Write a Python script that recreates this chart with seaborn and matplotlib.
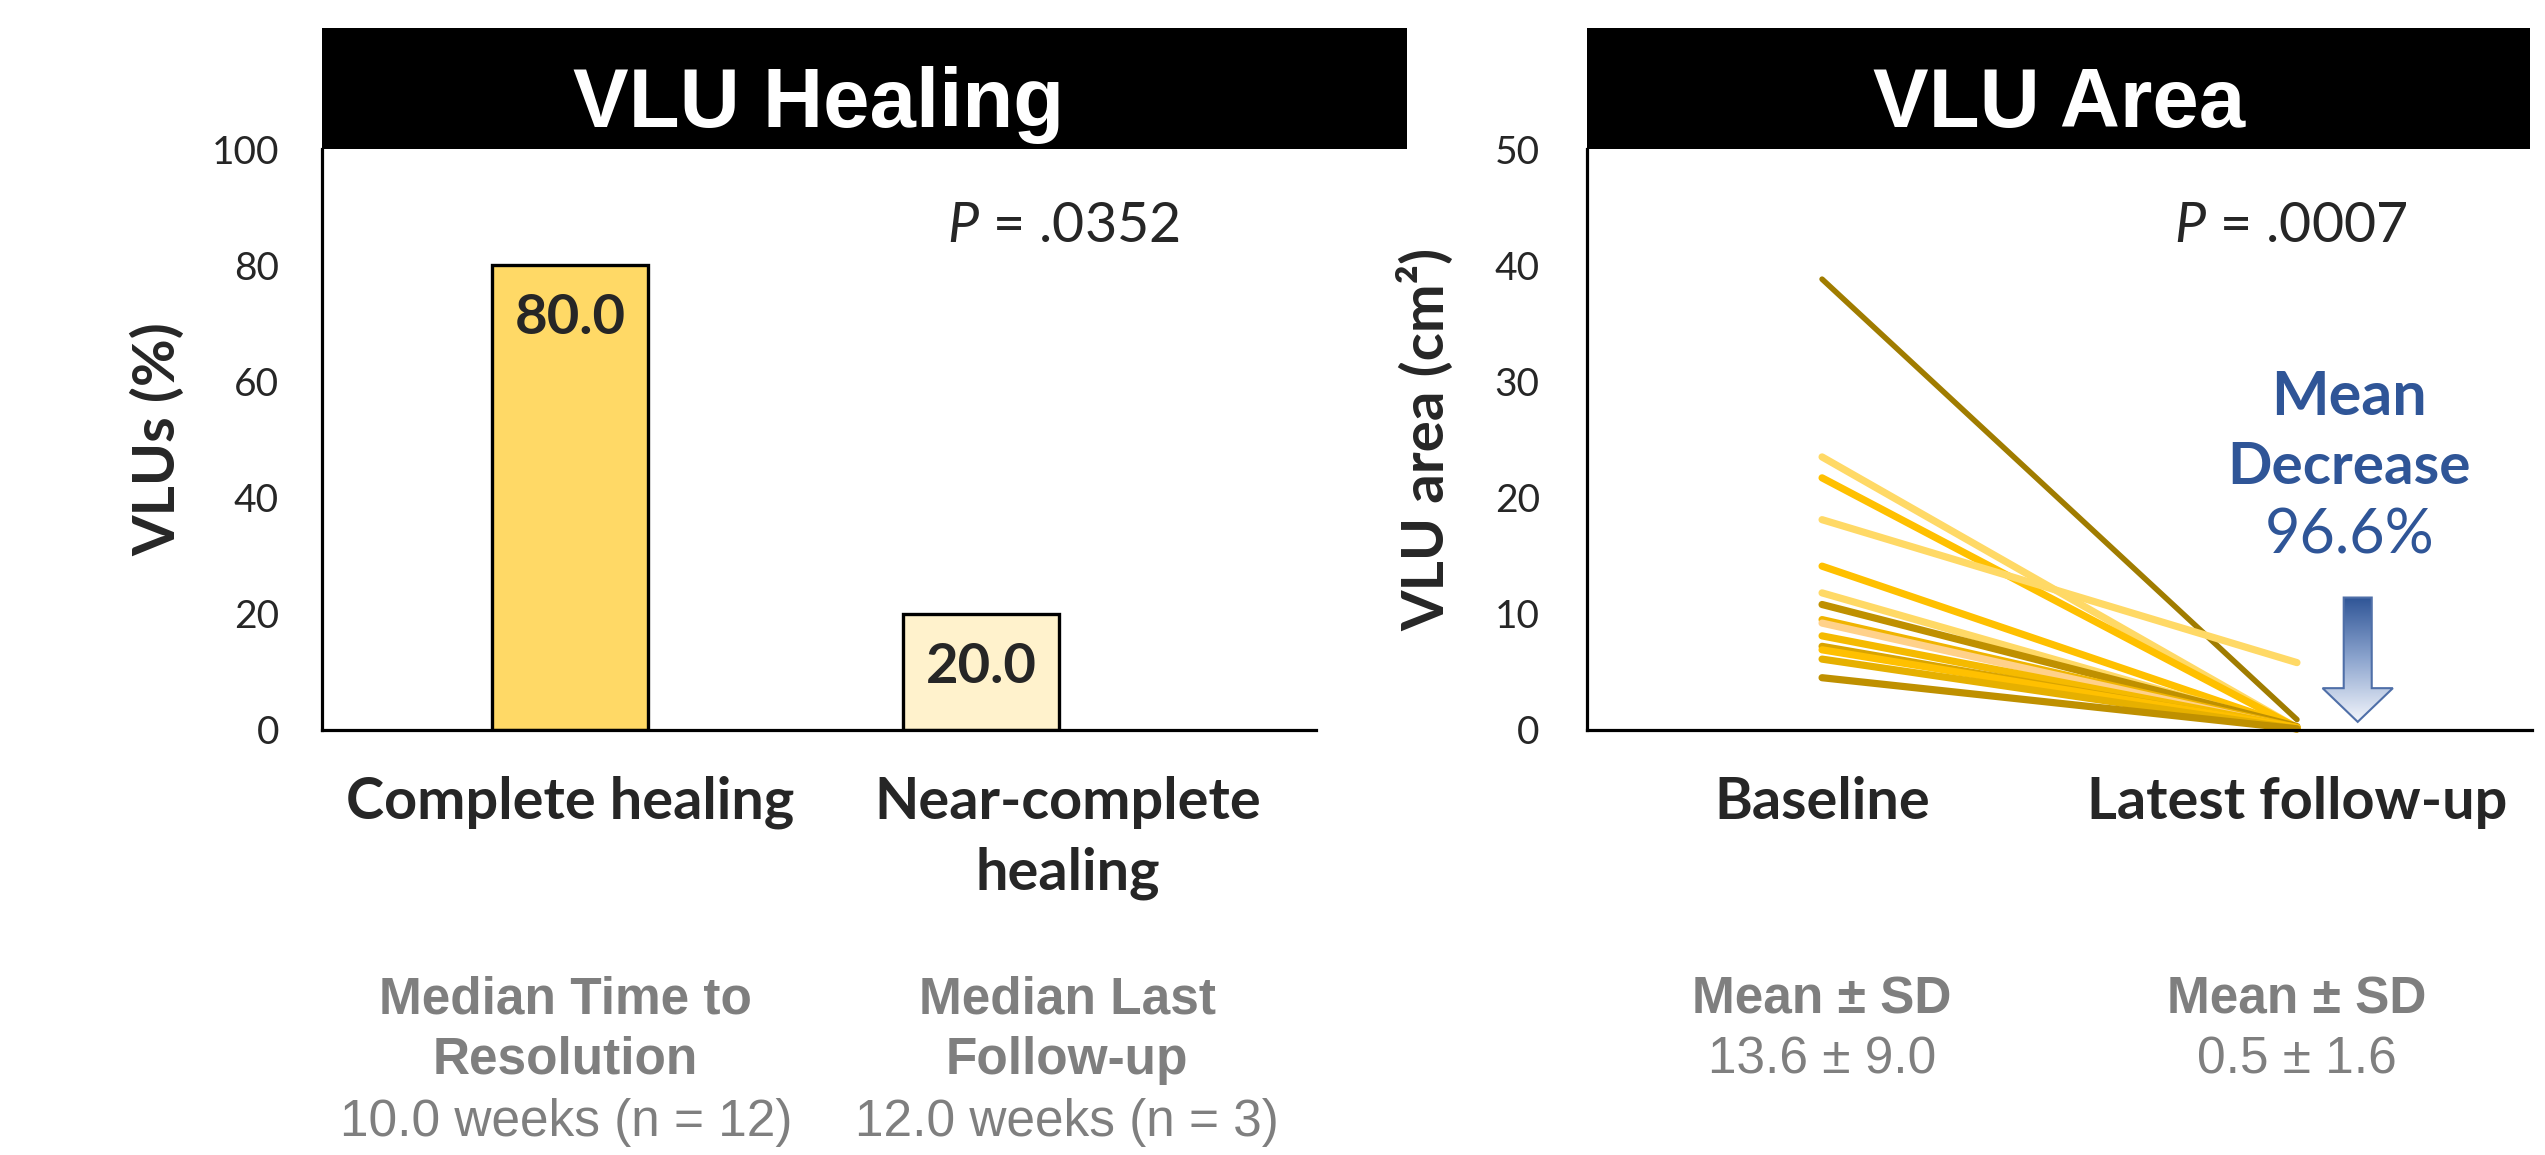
import numpy as np
import pandas as pd
import matplotlib
matplotlib.use("Agg")
import matplotlib.pyplot as plt
import seaborn as sns
from matplotlib.patches import Rectangle, Polygon
from matplotlib.colors import LinearSegmentedColormap

# ---------------- data ----------------
heal_categories = ["Complete healing", "Near-complete\nhealing"]
heal_values = [80.0, 20.0]
heal_colors = ["#FFD966", "#FFF2CC"]
heal_note_heads = [["Median Time to", "Resolution"], ["Median Last", "Follow-up"]]
heal_note_values = ["10.0 weeks (n = 12)", "12.0 weeks (n = 3)"]
heal_p = ".0352"
heal_yticks = [0, 20, 40, 60, 80, 100]

area_timepoints = ["Baseline", "Latest follow-up"]
area_baseline = [38.8, 23.5, 21.7, 18.1, 14.1, 11.8, 10.8, 9.5, 9.2, 8.1, 7.2, 6.9, 6.1, 4.5]
area_followup = [0.9, 0.2, 0.2, 5.8, 0.2, 0.1, 0.3, 0.2, 0.1, 0.2, 0.1, 0.2, 0.1, 0.1]
area_colors = ["#A07C00", "#FFD966", "#FFC000", "#FFD966", "#FFC000", "#FFD966", "#BF9000",
               "#F0B400", "#FFD18A", "#F5BA00", "#D9A400", "#FFC000", "#E6B000", "#BF9000"]
area_summary = ["13.6 ± 9.0", "0.5 ± 1.6"]
area_p = ".0007"
area_yticks = [0, 10, 20, 30, 40, 50]
mean_decrease = "96.6%"

# ---------------- style ----------------
sns.set_style("white")
plt.rcParams["font.family"] = ["Lato", "DejaVu Sans"]
plt.rcParams["mathtext.fontset"] = "custom"
plt.rcParams["mathtext.it"] = "Lato:italic"
plt.rcParams["mathtext.rm"] = "Lato"

GRAY = "#7F7F7F"
BLUE = "#2F5597"
ARIAL = ["Liberation Sans", "DejaVu Sans"]

W, H = 2545, 1155
fig = plt.figure(figsize=(W / 100, H / 100), dpi=100)


def frect(x0, y0, x1, y1):
    return [x0 / W, 1 - y1 / H, (x1 - x0) / W, (y1 - y0) / H]


ax1 = fig.add_axes(frect(322, 149, 1316, 730))
ax2 = fig.add_axes(frect(1587, 149, 2532, 730))

# title boxes
for (x0, x1), title, axc in [((322, 1407), "VLU Healing", 819), ((1587, 2530), "VLU Area", 2059)]:
    fig.add_artist(Rectangle((x0 / W, 1 - 149 / H), (x1 - x0) / W, 121 / H,
                             transform=fig.transFigure, facecolor="black", edgecolor="none"))
    fig.text(axc / W, 1 - 127 / H, title, color="white", fontsize=60, fontweight="bold",
             family=ARIAL, ha="center", va="baseline")

# ---------------- left: bar chart ----------------
sns.barplot(x=heal_categories, y=heal_values, hue=heal_categories, palette=heal_colors,
            saturation=1, width=0.38, edgecolor="black", linewidth=2.4, legend=False, ax=ax1)
ax1.set_xlim(-0.603, 1.815)
ax1.set_ylim(0, 100)
ax1.set_yticks(heal_yticks)
ax1.set_xticks([0, 1.21])
ax1.set_xticklabels(heal_categories, fontsize=41.5, fontweight="bold", linespacing=1.42)
ax1.tick_params(axis="y", length=0, pad=31, labelsize=28)
ax1.tick_params(axis="x", length=0, pad=33)
ax1.set_xlabel("")
ax1.set_ylabel("VLUs (%)", fontsize=42, fontweight="bold", va="center")
ax1.yaxis.set_label_coords(-0.165, 0.5)

for patch, val in zip(ax1.patches, heal_values):
    ax1.annotate(f"{val:.1f}", (patch.get_x() + patch.get_width() / 2, patch.get_height()),
                 xytext=(0, -69), textcoords="offset pixels", ha="center", va="baseline",
                 fontsize=40.5, fontweight="bold")

ax1.text((1063 - 322) / 994, (730 - 242) / 581, r"$\mathit{P}$ = " + heal_p, transform=ax1.transAxes,
         ha="center", va="baseline", fontsize=40)

note_x1 = [-0.01, 1.21]
for xpos, heads, val in zip(note_x1, heal_note_heads, heal_note_values):
    for k, line in enumerate(heads):
        ax1.text(xpos, (730 - (1013 + 61 * k)) / 581, line, transform=ax1.get_xaxis_transform(),
                 ha="center", va="baseline", fontsize=37, fontweight="bold", color=GRAY, family=ARIAL)
    ax1.text(xpos, (730 - 1136) / 581, val, transform=ax1.get_xaxis_transform(),
             ha="center", va="baseline", fontsize=37, color=GRAY, family=ARIAL)

# ---------------- right: paired lines ----------------
ids = [f"VLU {i + 1}" for i in range(len(area_baseline))]
df = pd.DataFrame({
    "vlu": ids * 2,
    "pos": [0] * len(ids) + [1] * len(ids),
    "area": area_baseline + area_followup,
})
sns.lineplot(data=df, x="pos", y="area", hue="vlu", hue_order=ids, palette=area_colors,
             estimator=None, legend=False, linewidth=5.2, ax=ax2)
for i, ln in enumerate(ax2.lines):
    ln.set_solid_capstyle("round")
    ln.set_clip_on(False)
    if i == 0:
        ln.set_linewidth(4.0)

# gradient arrow (mean decrease)
xc, sw, hw = 1.128, 0.0295, 0.074
top, hs, tip = 11.4, 3.6, 0.7
pts = [(xc - sw, top), (xc + sw, top), (xc + sw, hs), (xc + hw, hs), (xc, tip), (xc - hw, hs), (xc - sw, hs)]
poly = Polygon(pts, closed=True, facecolor="none", edgecolor="#4F6FA8", linewidth=1.5, zorder=4)
ax2.add_patch(poly)
cmap = LinearSegmentedColormap.from_list("arr", ["#F2F5FB", "#8EA6CF", BLUE])
grad = np.linspace(0, 1, 256).reshape(-1, 1)
im = ax2.imshow(grad, extent=[xc - hw, xc + hw, tip, top], origin="lower", aspect="auto",
                cmap=cmap, zorder=3)
im.set_clip_path(poly)

ax2.set_xlim(-0.495, 1.495)
ax2.set_ylim(0, 50)
ax2.set_yticks(area_yticks)
ax2.set_xticks([0, 1])
ax2.set_xticklabels(area_timepoints, fontsize=41.5, fontweight="bold")
ax2.tick_params(axis="y", length=0, pad=34, labelsize=28)
ax2.tick_params(axis="x", length=0, pad=33)
ax2.set_xlabel("")
ax2.set_ylabel("VLU area (cm²)", fontsize=42, fontweight="bold", va="center")
ax2.yaxis.set_label_coords(-0.171, 0.5)

ax2.text((2291 - 1587) / 945, (730 - 242) / 581, r"$\mathit{P}$ = " + area_p, transform=ax2.transAxes,
         ha="center", va="baseline", fontsize=40)

bx = 1.11
ax2.text(bx, (730 - 415) / 11.62, "Mean", ha="center", va="baseline", fontsize=44,
         fontweight="bold", color=BLUE)
ax2.text(bx, (730 - 484) / 11.62, "Decrease", ha="center", va="baseline", fontsize=42,
         fontweight="bold", color=BLUE)
ax2.text(bx, (730 - 553) / 11.62, mean_decrease, ha="center", va="baseline", fontsize=44, color=BLUE)

for xpos, val in zip([0, 1], area_summary):
    ax2.text(xpos, (730 - 1013) / 581, "Mean ± SD", transform=ax2.get_xaxis_transform(),
             ha="center", va="baseline", fontsize=37, fontweight="bold", color=GRAY, family=ARIAL)
    ax2.text(xpos, (730 - 1074) / 581, val, transform=ax2.get_xaxis_transform(),
             ha="center", va="baseline", fontsize=37, color=GRAY, family=ARIAL)

for ax in (ax1, ax2):
    for s in ("top", "right"):
        ax.spines[s].set_visible(False)
    for s in ("left", "bottom"):
        ax.spines[s].set_color("black")
        ax.spines[s].set_linewidth(2.3)
        ax.spines[s].set_zorder(5)
    ax.grid(False)

fig.savefig("out.png", dpi=100)
